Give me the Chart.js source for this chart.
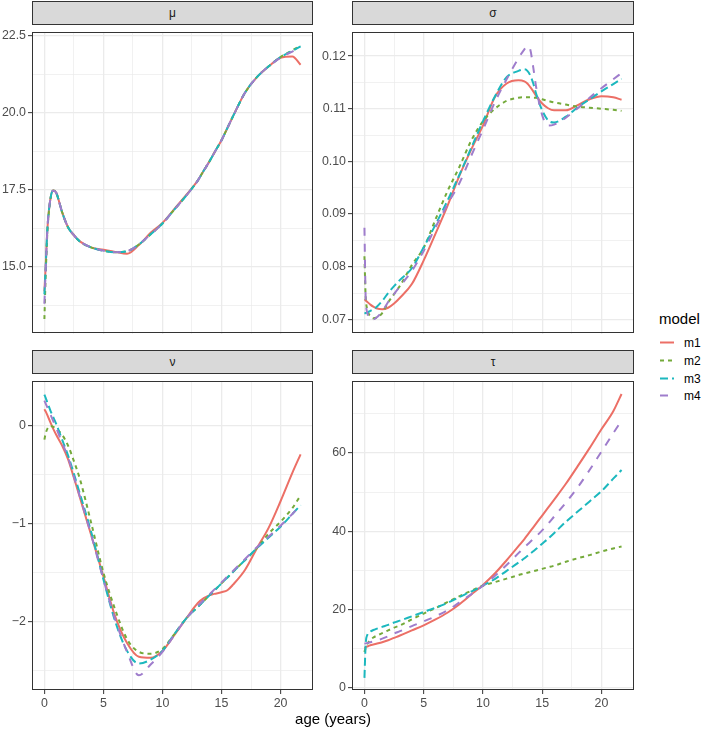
<!DOCTYPE html>
<html>
<head>
<meta charset="utf-8">
<script src="https://cdn.jsdelivr.net/npm/chart.js@4.4.1/dist/chart.umd.min.js"></script>
<style>
  body { margin: 0; background: #fff; font-family: "Liberation Sans", Arial, sans-serif; }
  #page { position: relative; width: 709px; height: 729px; overflow: hidden; }
  canvas { position: absolute; }
  .strip { position: absolute; box-sizing: border-box; height: 24px; background: #d9d9d9;
           border: 1px solid #333; color: #1a1a1a; font-size: 12px; line-height: 22px; text-align: center; }
  #xtitle { position: absolute; left: 183px; width: 300px; top: 710px; text-align: center;
            font-size: 15px; line-height: 17px; color: #000; }
  #legend { position: absolute; left: 659px; top: 310px; }
  #legend .title { font-size: 15px; line-height: 17px; color: #000; }
  #legend .row { position: absolute; left: 0; height: 18px; width: 50px; }
  #legend .row svg { position: absolute; left: 0; top: 0; }
  #legend .row span { position: absolute; left: 25px; top: 1px; font-size: 12px; line-height: 16px; color: #000; }
</style>
</head>
<body>
<div id="page">
  <div class="strip" style="left:32px; top:1px; width:281px;">μ</div>
  <div class="strip" style="left:352px; top:1px; width:282px;">σ</div>
  <div class="strip" style="left:32px; top:350px; width:281px;">ν</div>
  <div class="strip" style="left:352px; top:350px; width:282px;">τ</div>
  <canvas id="cMu" width="316" height="320" style="left:0; top:23px;"></canvas>
  <canvas id="cSigma" width="319" height="320" style="left:318px; top:23px;"></canvas>
  <canvas id="cNu" width="316" height="357" style="left:0; top:372px;"></canvas>
  <canvas id="cTau" width="319" height="357" style="left:318px; top:372px;"></canvas>
  <div id="xtitle">age (years)</div>
  <div id="legend"><div class="title">model</div></div>
</div>
<script>
// ages shared by every fitted curve
const age = [0, 0.1, 0.25, 0.5, 0.75, 1, 1.5, 2, 2.5, 3, 4, 5, 6, 7, 8, 9, 10, 11, 12, 13,
  13.5, 13.75, 14, 14.25, 14.5, 15, 15.5, 16, 17, 18, 19, 20, 21, 21.7];

const models = ["m1", "m2", "m3", "m4"];

// mu
const muM1 = [14.2, 14.95, 16.2, 17.18, 17.47, 17.4, 16.77, 16.28, 16.02, 15.82, 15.62, 15.55, 15.48, 15.42, 15.7, 16.1, 16.42, 16.87, 17.32, 17.8,
  18.12, 18.27, 18.43, 18.6, 18.77, 19.1, 19.5, 19.9, 20.65, 21.15, 21.5, 21.78, 21.82, 21.55];
const muM2 = [13.3, 14.6, 16.1, 17.15, 17.47, 17.4, 16.77, 16.28, 16.02, 15.82, 15.62, 15.52, 15.47, 15.5, 15.72, 16.05, 16.4, 16.85, 17.3, 17.8,
  18.12, 18.27, 18.43, 18.6, 18.77, 19.1, 19.5, 19.9, 20.65, 21.15, 21.5, 21.8, 22.02, 22.17];
const muM3 = [14.1, 14.9, 16.2, 17.18, 17.47, 17.4, 16.77, 16.28, 16.02, 15.82, 15.62, 15.52, 15.47, 15.5, 15.72, 16.05, 16.4, 16.85, 17.3, 17.8,
  18.12, 18.27, 18.43, 18.6, 18.77, 19.1, 19.5, 19.9, 20.65, 21.15, 21.5, 21.8, 22.0, 22.15];
const muM4 = [13.8, 14.8, 16.2, 17.18, 17.47, 17.4, 16.77, 16.28, 16.02, 15.82, 15.62, 15.52, 15.47, 15.5, 15.72, 16.05, 16.4, 16.85, 17.3, 17.8,
  18.12, 18.27, 18.43, 18.6, 18.77, 19.1, 19.5, 19.9, 20.65, 21.15, 21.5, 21.78, 21.98, 22.12];

// sigma
const sigmaM1 = [0.0738, 0.0736, 0.0733, 0.0728, 0.0724, 0.0721, 0.0719, 0.0722, 0.0730, 0.0741, 0.0767, 0.0812, 0.0863, 0.0915, 0.0972, 0.1022, 0.1068, 0.1122, 0.1148, 0.1154,
  0.1152, 0.1148, 0.1141, 0.1133, 0.1124, 0.1110, 0.1101, 0.1097, 0.1097, 0.1107, 0.1118, 0.1124, 0.1122, 0.1117];
const sigmaM2 = [0.0820, 0.0745, 0.0718, 0.0706, 0.0702, 0.0703, 0.0712, 0.0732, 0.0748, 0.0764, 0.0803, 0.0836, 0.0890, 0.0943, 0.0989, 0.1039, 0.1076, 0.1100, 0.1115, 0.1121,
  0.1122, 0.1122, 0.1122, 0.1121, 0.1121, 0.1118, 0.1115, 0.1112, 0.1108, 0.1104, 0.1102, 0.1100, 0.1098, 0.1096];
const sigmaM3 = [0.0711, 0.0712, 0.0713, 0.0716, 0.0719, 0.0723, 0.0735, 0.0750, 0.0763, 0.0775, 0.0797, 0.0837, 0.0880, 0.0925, 0.0974, 0.1025, 0.1076, 0.1123, 0.1160, 0.1172,
  0.1175, 0.1172, 0.1163, 0.1148, 0.1128, 0.1097, 0.1078, 0.1074, 0.1085, 0.1103, 0.1118, 0.1133, 0.1147, 0.1157];
const sigmaM4 = [0.0874, 0.0745, 0.0712, 0.0700, 0.0700, 0.0703, 0.0715, 0.0733, 0.0748, 0.0763, 0.0792, 0.0830, 0.0875, 0.0918, 0.0958, 0.1010, 0.1060, 0.1112, 0.1156, 0.1196,
  0.1213, 0.1219, 0.1212, 0.1178, 0.1140, 0.1088, 0.1068, 0.1070, 0.1083, 0.1101, 0.1121, 0.1139, 0.1156, 0.1168];

// nu
const nuM1 = [0.17, 0.15, 0.11, 0.04, -0.03, -0.09, -0.2, -0.34, -0.53, -0.73, -1.13, -1.54, -1.95, -2.22, -2.36, -2.37, -2.3, -2.14, -1.97, -1.81,
  -1.76, -1.745, -1.73, -1.72, -1.715, -1.7, -1.68, -1.62, -1.47, -1.25, -1.04, -0.77, -0.48, -0.29];
const nuM2 = [-0.14, -0.08, -0.03, 0.0, -0.01, -0.03, -0.09, -0.2, -0.36, -0.54, -1.01, -1.5, -1.88, -2.18, -2.31, -2.33, -2.28, -2.13, -1.97, -1.85,
  -1.79, -1.76, -1.73, -1.7, -1.67, -1.61, -1.55, -1.49, -1.37, -1.25, -1.1, -0.98, -0.84, -0.71];
const nuM3 = [0.32, 0.29, 0.24, 0.16, 0.09, 0.02, -0.14, -0.3, -0.49, -0.69, -1.1, -1.57, -2.0, -2.3, -2.43, -2.39, -2.3, -2.13, -1.97, -1.85,
  -1.79, -1.76, -1.73, -1.7, -1.67, -1.61, -1.55, -1.49, -1.37, -1.25, -1.14, -1.03, -0.9, -0.81];
const nuM4 = [0.26, 0.23, 0.19, 0.12, 0.05, -0.02, -0.17, -0.32, -0.52, -0.72, -1.13, -1.57, -1.98, -2.31, -2.55, -2.44, -2.31, -2.14, -1.97, -1.84,
  -1.78, -1.75, -1.72, -1.69, -1.66, -1.6, -1.54, -1.48, -1.36, -1.24, -1.13, -1.02, -0.9, -0.81];

// tau
const tauM1 = [10.2, 10.4, 10.6, 10.9, 11.1, 11.3, 11.7, 12.2, 12.8, 13.4, 14.7, 16.0, 17.5, 19.2, 21.3, 23.8, 26.3, 29.2, 32.6, 36.2,
  38.0, 39.0, 40.0, 41.0, 42.0, 44.0, 46.0, 48.0, 52.1, 56.6, 61.2, 66.0, 70.6, 75.0];
const tauM2 = [9.2, 10.2, 11.3, 12.3, 12.9, 13.3, 14.0, 14.7, 15.4, 16.0, 17.5, 19.0, 20.4, 21.9, 23.4, 24.8, 26.1, 27.0, 27.9, 28.8,
  29.2, 29.4, 29.6, 29.8, 30.0, 30.4, 30.8, 31.2, 32.2, 33.1, 33.9, 34.8, 35.6, 36.1];
const tauM3 = [2.6, 11.0, 13.6, 14.4, 14.8, 15.1, 15.6, 16.1, 16.7, 17.2, 18.3, 19.4, 20.5, 21.7, 23.2, 24.6, 26.1, 27.8, 29.9, 32.0,
  33.1, 33.7, 34.3, 34.9, 35.5, 36.8, 38.1, 39.5, 42.4, 45.0, 47.6, 50.2, 53.4, 55.6];
const tauM4 = [11.3, 11.4, 11.5, 11.7, 11.9, 12.1, 12.6, 13.2, 13.9, 14.5, 15.8, 17.0, 18.3, 19.8, 21.8, 23.9, 26.1, 28.6, 31.4, 34.4,
  35.9, 36.6, 37.3, 38.0, 38.7, 40.2, 41.9, 43.7, 47.3, 51.2, 55.6, 60.3, 65.0, 68.2];

// tick positions (major labelled, minor only gridlines)
const ageTicks = [0, 5, 10, 15, 20];
const ageMinor = [2.5, 7.5, 12.5, 17.5];
const muTicks = [15, 17.5, 20, 22.5];
const muMinor = [13.75, 16.25, 18.75, 21.25];
const sigmaTicks = [0.07, 0.08, 0.09, 0.10, 0.11, 0.12];
const sigmaMinor = [0.075, 0.085, 0.095, 0.105, 0.115];
const nuTicks = [-2, -1, 0];
const nuMinor = [-2.5, -1.5, -0.5];
const tauTicks = [0, 20, 40, 60];
const tauMinor = [10, 30, 50, 70];

// ggplot-like styling (hue palette, slightly muted like the reference)
const colors = ["#EC6F66", "#74AA3A", "#1CB8BE", "#9F7DCC"];
const dashes = [[], [4, 4], [8, 4], [8, 8]];
const GRID = "#EBEBEB";
const TICK_FONT = { family: "'Liberation Sans', Arial, sans-serif", size: 12.4 };

const has = (list, v) => list.some(m => Math.abs(m - v) < 1e-9);

const panelBorder = {
  id: "panelBorder",
  afterDraw(chart) {
    const { ctx, chartArea: a } = chart;
    ctx.save();
    ctx.strokeStyle = "#333333";
    ctx.lineWidth = 1;
    ctx.strokeRect(Math.round(a.left) + 0.5, Math.round(a.top) + 0.5,
      Math.round(a.right - a.left) - 1, Math.round(a.bottom - a.top) - 1);
    ctx.restore();
  }
};

function axis(min, max, majors, minors, fmt, showLabels, fit) {
  return {
    type: "linear",
    min: min,
    max: max,
    afterBuildTicks: s => {
      s.ticks = majors.concat(minors).sort((a, b) => a - b).map(v => ({ value: v }));
    },
    afterFit: fit,
    border: { display: false },
    grid: {
      color: GRID,
      lineWidth: c => (c.tick && has(majors, c.tick.value) ? 1.3 : 0.7),
      drawTicks: showLabels,
      tickLength: 4,
      tickWidth: 1,
      tickColor: c => (c.tick && has(majors, c.tick.value) ? "#333333" : "rgba(0,0,0,0)")
    },
    ticks: {
      display: showLabels,
      autoSkip: false,
      maxRotation: 0,
      padding: 2,
      color: "#4D4D4D",
      font: TICK_FONT,
      callback: v => (has(majors, v) ? fmt(v) : "")
    }
  };
}

function makePanel(id, series, yMin, yMax, yMajor, yMinor, yFmt, yWidth, bottomRow) {
  const datasets = series.map((vals, i) => ({
    label: models[i],
    data: age.map((a, j) => ({ x: a, y: vals[j] })),
    borderColor: colors[i],
    borderWidth: 2,
    borderDash: dashes[i],
    borderCapStyle: "butt",
    pointRadius: 0,
    fill: false,
    cubicInterpolationMode: "monotone",
    order: 4 - i
  }));

  new Chart(document.getElementById(id), {
    type: "line",
    data: { datasets: datasets },
    options: {
      responsive: false,
      animation: false,
      devicePixelRatio: 1,
      layout: { padding: { top: 2, right: 3, bottom: bottomRow ? 0 : 2, left: 0 } },
      plugins: { legend: { display: false }, tooltip: { enabled: false } },
      scales: {
        x: axis(-1.05, 22.75, ageTicks, ageMinor, v => String(v), bottomRow,
          s => { s.height = bottomRow ? 39 : 0; }),
        y: axis(yMin, yMax, yMajor, yMinor, yFmt, true,
          s => { s.width = yWidth; })
      }
    },
    plugins: [panelBorder]
  });
}

makePanel("cMu", [muM1, muM2, muM3, muM4], 12.83, 22.6, muTicks, muMinor, v => v.toFixed(1), 32, false);
makePanel("cSigma", [sigmaM1, sigmaM2, sigmaM3, sigmaM4], 0.0673, 0.1245, sigmaTicks, sigmaMinor, v => v.toFixed(2), 34, false);
makePanel("cNu", [nuM1, nuM2, nuM3, nuM4], -2.7, 0.455, nuTicks, nuMinor,
  v => (v < 0 ? "\u2212" + Math.abs(v) : String(v)), 32, true);
makePanel("cTau", [tauM1, tauM2, tauM3, tauM4], -0.5, 78.2, tauTicks, tauMinor, v => String(v), 34, true);

// legend
const legend = document.getElementById("legend");
models.forEach((m, i) => {
  const row = document.createElement("div");
  row.className = "row";
  row.style.top = (24 + i * 17.8) + "px";
  const svg = document.createElementNS("http://www.w3.org/2000/svg", "svg");
  svg.setAttribute("width", "17");
  svg.setAttribute("height", "18");
  const line = document.createElementNS("http://www.w3.org/2000/svg", "line");
  line.setAttribute("x1", "1");
  line.setAttribute("x2", "15");
  line.setAttribute("y1", "8.5");
  line.setAttribute("y2", "8.5");
  line.setAttribute("stroke", colors[i]);
  line.setAttribute("stroke-width", "2");
  if (dashes[i].length) line.setAttribute("stroke-dasharray", dashes[i].join(" "));
  svg.appendChild(line);
  const label = document.createElement("span");
  label.textContent = m;
  row.appendChild(svg);
  row.appendChild(label);
  legend.appendChild(row);
});
</script>
</body>
</html>
